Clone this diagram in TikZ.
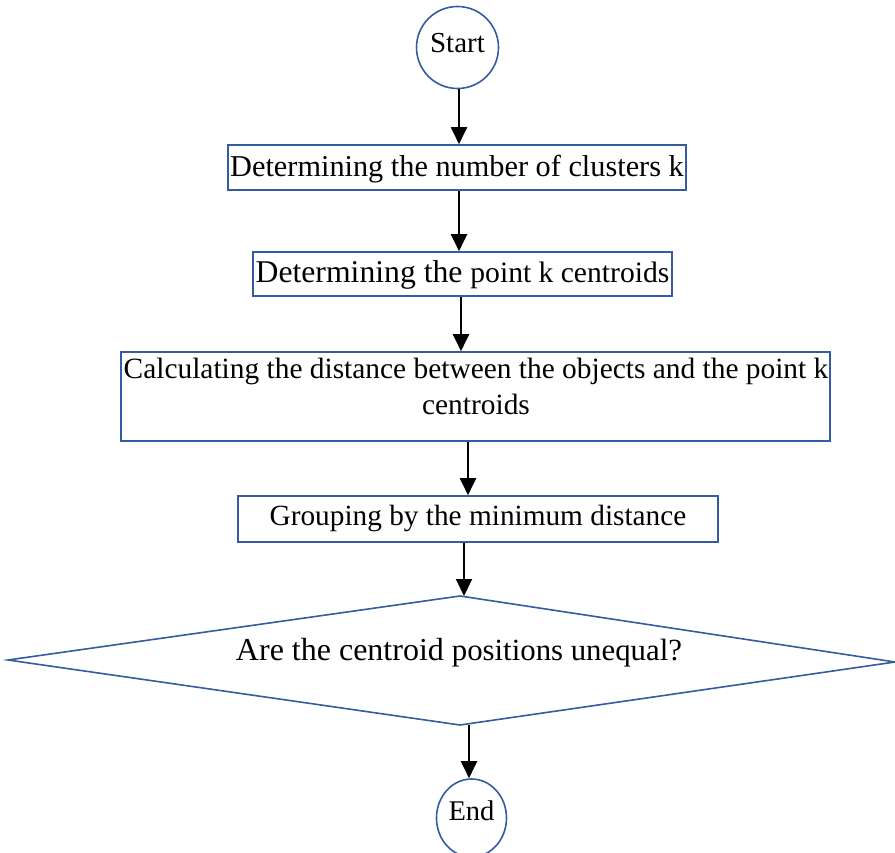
\documentclass[tikz,border=0pt]{standalone}
\usepackage{fontspec}
\setmainfont{Liberation Serif}
\usetikzlibrary{arrows.meta,calc,shapes.geometric}
\definecolor{boxblue}{RGB}{52,92,160}
\newcommand{\fs}[1]{\fontsize{#1}{1.25\dimexpr#1pt\relax}\selectfont}
\begin{document}
\begin{tikzpicture}[x=1pt,y=-1pt,
  every node/.style={font=\fs{29.5}, inner sep=0pt},
  blueline/.style={draw=boxblue, line width=1.6pt},
  procbox/.style={blueline, rectangle},
  arr/.style={draw=black, line width=2pt, -{Triangle[length=17pt,width=16pt]}}]
\useasboundingbox (0,0) rectangle (895,853);
% start
\node[blueline, circle, minimum size=82pt, font=\fs{29}, text height=20pt, text depth=9pt] (start) at (457.5,47.5) {Start};
% boxes
\node[procbox, minimum width=458pt, minimum height=45pt, font=\fs{30.3}, text height=20pt, text depth=1pt] (box1) at (457,167.5) {Determining the number of clusters k};
\node[procbox, minimum width=419pt, minimum height=44pt, font=\fs{31.7}, text height=20pt, text depth=2pt] (box2) at (462.5,274) {Determining the {\fs{29.6}point k centroids}};
\node[procbox, minimum width=709pt, minimum height=89pt] (box3) at (475.5,396.5) {};
\node[align=center, anchor=base, font=\fs{29.4}] (box3text) at (476,414) {Calculating the distance between the objects and the point k\\[-1.5pt]centroids};
\node[procbox, minimum width=480pt, minimum height=46pt, font=\fs{29.3}, text height=20pt, text depth=8pt] (box4) at (478,519) {Grouping by the minimum distance};
% decision
\coordinate (dtop) at (460,596);
\coordinate (dleft) at (8,660);
\coordinate (dright) at (895,662);
\coordinate (dbot) at (460,725);
\draw[blueline, line join=miter] (dtop) -- (dright) -- (dbot) -- (dleft) -- cycle;
\node[anchor=base, font=\fs{32}] (dtext) at (459,660) {Are the centroid {\fs{30.8}positions unequal?}};
% end
\node[blueline, ellipse, minimum width=70pt, minimum height=78pt, font=\fs{28.5}, text height=20pt, text depth=16pt] (end) at (471.5,818) {End};
% arrows
\draw[arr] ([xshift=1.5pt]start.south) -- ([xshift=1.5pt]start.south |- box1.north);
\draw[arr] ([xshift=2pt]box1.south) -- ([xshift=2pt]box1.south |- box2.north);
\draw[arr] ([xshift=-1.5pt]box2.south) -- ([xshift=-1.5pt]box2.south |- box3.north);
\draw[arr] ([xshift=-7.5pt]box3.south) -- ([xshift=-7.5pt]box3.south |- box4.north);
\draw[arr] ([xshift=-14pt]box4.south) -- ([xshift=-14pt]box4.south |- dtop);
\draw[arr] ([xshift=9pt]dbot) -- ([xshift=9pt]dbot |- end.north);
\end{tikzpicture}
\end{document}
